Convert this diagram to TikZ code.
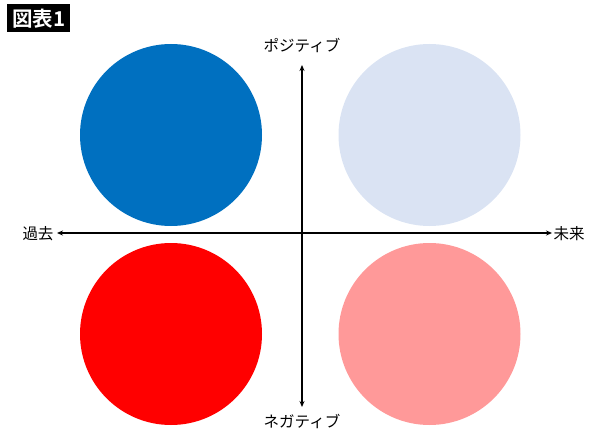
\documentclass[tikz,border=0pt]{standalone}
\usepackage{fontspec}
\newfontfamily\jpfont{Noto Sans CJK JP}
\newfontfamily\jpbold{Noto Sans CJK JP Bold}
\usetikzlibrary{arrows.meta}

\definecolor{quadblue}{RGB}{0,112,192}
\definecolor{quadpale}{RGB}{218,227,243}
\definecolor{quadred}{RGB}{255,0,0}
\definecolor{quadpink}{RGB}{255,153,153}

\tikzset{every picture/.style={line width=0.75pt}}
\tikzset{axislabel/.style={inner sep=0.75pt, font=\jpfont\fontsize{15.5}{18}\selectfont}}
\tikzset{axisline/.style={line width=1.5, {Stealth[length=6pt,width=5pt]}-{Stealth[length=6pt,width=5pt]}}}

\begin{document}
\begin{tikzpicture}[x=1pt,y=1pt,yscale=-1,xscale=1]
	\useasboundingbox (0,0) rectangle (600,436);
	
	\fill [quadblue] (171,135) circle [radius=91];
	\fill [quadpale] (429.5,135) circle [radius=91];
	\fill [quadred] (171,334) circle [radius=91];
	\fill [quadpink] (429.5,334) circle [radius=91];
	
	\coordinate (top) at (302,65);
	\coordinate (bottom) at (302,407);
	\coordinate (left) at (57,233);
	\coordinate (right) at (552,233);
	
	\draw [axisline] (top) -- (bottom) ;
	\draw [axisline] (left) -- (right) ;
	
	\node (title) [fill=black, text=white, inner xsep=5pt, inner ysep=0pt, minimum height=28, anchor=north west, font=\jpbold\fontsize{20.5}{22}\selectfont] at (7,4) {図表1};
	
	\node (pos) [axislabel] at (302,45) {ポジティブ};
	
	\node (neg) [axislabel] at (302,421) {ネガティブ};
	
	\node (past) [axislabel] at (38,234) {過去};
	
	\node (future) [axislabel] at (569,234) {未来};
\end{tikzpicture}
\end{document}
